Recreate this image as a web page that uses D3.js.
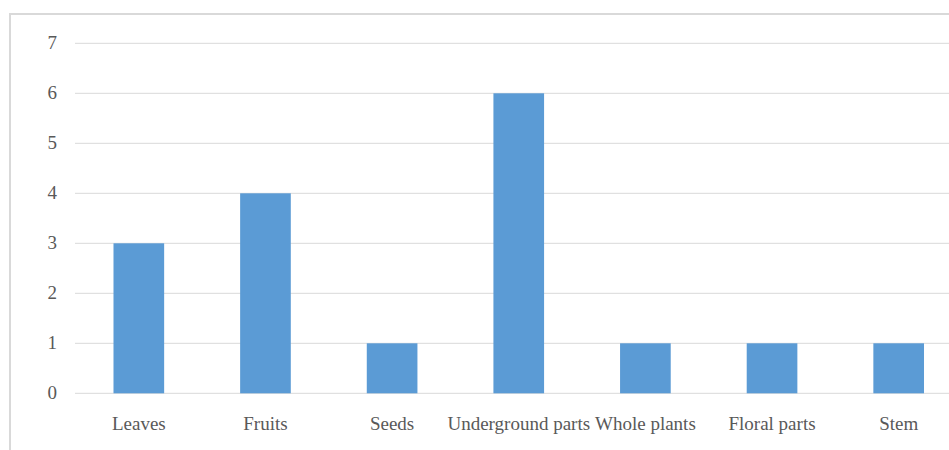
<!DOCTYPE html>
<html>
<head>
<meta charset="utf-8">
<script src="https://cdn.jsdelivr.net/npm/d3@7"></script>
<style>
  html, body { margin: 0; padding: 0; background: #ffffff; }
  svg { display: block; }
</style>
</head>
<body>
<svg id="chart" width="949" height="450"></svg>
<script>
const categories = ["Leaves", "Fruits", "Seeds", "Underground parts", "Whole plants", "Floral parts", "Stem"];
const values = [3, 4, 1, 6, 1, 1, 1];
const yTicks = [0, 1, 2, 3, 4, 5, 6, 7];

const svg = d3.select("#chart");
const W = 949, H = 450;

// chart border (extends beyond the visible window, like the cropped original)
svg.append("rect")
  .attr("x", 10).attr("y", 14)
  .attr("width", 960).attr("height", 460)
  .attr("fill", "#ffffff")
  .attr("stroke", "#d9d9d9")
  .attr("stroke-width", 2);

const x = d3.scaleBand()
  .domain(categories)
  .range([75.5, 962])
  .paddingInner(0.6)
  .paddingOuter(0.3);

const y = d3.scaleLinear()
  .domain([0, 7])
  .range([393.3, 43.3]);

const font = "'Liberation Serif', 'Times New Roman', serif";
const textColor = "#595959";

// gridlines
svg.append("g")
  .selectAll("line")
  .data(yTicks)
  .join("line")
  .attr("x1", 75)
  .attr("x2", 962)
  .attr("y1", d => y(d))
  .attr("y2", d => y(d))
  .attr("stroke", "#d9d9d9")
  .attr("stroke-width", 1);

// y tick labels
svg.append("g")
  .selectAll("text")
  .data(yTicks)
  .join("text")
  .attr("x", 57)
  .attr("y", d => y(d))
  .attr("dy", "0.3em")
  .attr("text-anchor", "end")
  .attr("font-family", font)
  .attr("font-size", 19)
  .attr("fill", textColor)
  .text(d => d);

// bars
svg.append("g")
  .selectAll("rect")
  .data(categories)
  .join("rect")
  .attr("x", d => x(d))
  .attr("width", x.bandwidth())
  .attr("y", (d, i) => y(values[i]))
  .attr("height", (d, i) => y(0) - y(values[i]))
  .attr("fill", "#5b9bd5");

// x labels
svg.append("g")
  .selectAll("text")
  .data(categories)
  .join("text")
  .attr("x", d => x(d) + x.bandwidth() / 2)
  .attr("y", 430)
  .attr("text-anchor", "middle")
  .attr("font-family", font)
  .attr("font-size", 19)
  .attr("fill", textColor)
  .text(d => d);
</script>
</body>
</html>
